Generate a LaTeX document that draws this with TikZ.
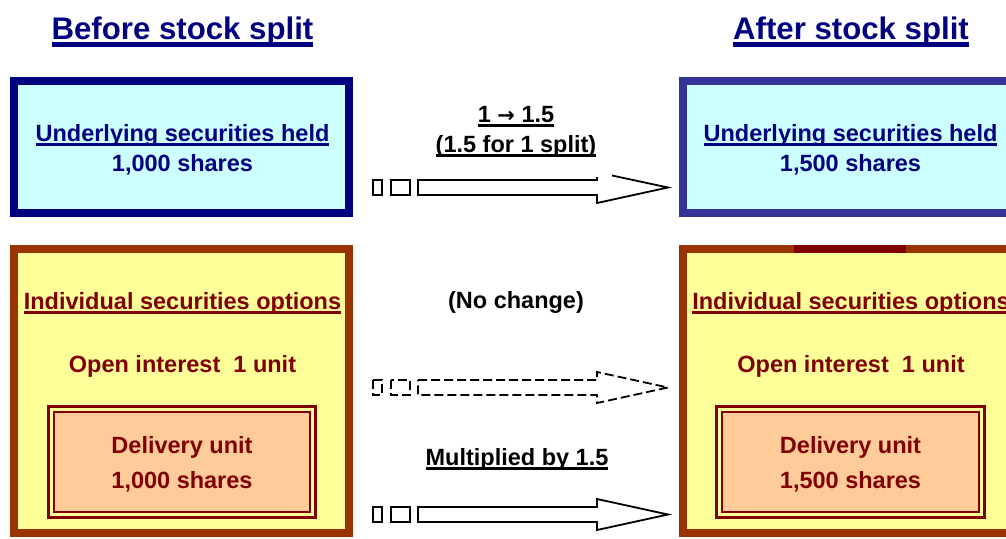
\documentclass[tikz,border=0pt]{standalone}
\usepackage{fontspec}
\setmainfont{Liberation Sans}
\newfontfamily\symfont{DejaVu Sans}
\definecolor{navyC}{HTML}{000080}
\definecolor{blueB}{HTML}{333399}
\definecolor{cyanF}{HTML}{CCFFFF}
\definecolor{brownB}{HTML}{993300}
\definecolor{yellowF}{HTML}{FFFF99}
\definecolor{darkredC}{HTML}{800000}
\definecolor{peachF}{HTML}{FFCC99}
% underlined text: #1 text, #2 depth of the rule's lower edge, #3 rule thickness
\newsavebox\ulbx
\newcommand\ulx[3]{\sbox\ulbx{#1}\rlap{\usebox\ulbx}\raisebox{-#2}{\rule{\wd\ulbx}{#3}}}
\newcommand\ulbody[1]{\ulx{#1}{4.6pt}{2.6pt}}
\newcommand\ultitle[1]{\ulx{#1}{7.7pt}{5pt}}
\begin{document}
\begin{tikzpicture}[x=1pt,y=-1pt,
  every node/.style={inner sep=0pt, anchor=base},
  body/.style={font=\bfseries\fontsize{23.5}{28}\selectfont},
  title/.style={font=\bfseries\fontsize{31.2}{36}\selectfont, text=navyC},
  bluebox/.style={line width=8pt, fill=cyanF},
  brownbox/.style={line width=8pt, draw=brownB, fill=yellowF},
  delbox/.style={line width=3pt, draw=darkredC, fill=yellowF},
  delinner/.style={line width=2pt, draw=darkredC, fill=peachF},
  arr/.style={line width=1.8pt, draw=black, line join=miter},
  dasharr/.style={arr, dash pattern=on 9pt off 4pt}]
\useasboundingbox (0,0) rectangle (1006,538);
\clip (0,0) rectangle (1006,538);

% titles
\node[title] (tBefore) at (182.5,39) {\ultitle{Before stock split}};
\node[title] (tAfter) at (851,39) {\ultitle{After stock split}};

% underlying securities boxes
\draw[bluebox, draw=navyC] (14,81) rectangle (349,213);
\draw[bluebox, draw=blueB] (683,81) rectangle (1018,213);
\node[body, text=navyC] (uL1) at (182.5,141) {\ulbody{Underlying securities held}};
\node[body, text=navyC] (uL2) at (182.5,171) {1,000 shares};
\node[body, text=navyC] (uR1) at (850.5,141) {\ulbody{Underlying securities held}};
\node[body, text=navyC] (uR2) at (850.5,171) {1,500 shares};

% options boxes
\draw[brownbox] (14,249) rectangle (349,533);
\draw[brownbox] (683,249) rectangle (1018,533);
\fill[darkredC] (794,245) rectangle (906,253);
\node[body, text=darkredC] (oL1) at (182.5,309) {\ulbody{Individual securities options}};
\node[body, text=darkredC] (oL2) at (182.5,372) {Open interest\ \ 1 unit};
\node[body, text=darkredC] (oR1) at (851,309) {\ulbody{Individual securities options}};
\node[body, text=darkredC] (oR2) at (851,372) {Open interest\ \ 1 unit};

% delivery unit boxes (double frame)
\draw[delbox] (48.5,406.5) rectangle (315.5,517.5);
\draw[delinner] (54,412) rectangle (310,512);
\node[body, text=darkredC] (dL1) at (182,453) {Delivery unit};
\node[body, text=darkredC] (dL2) at (182,488.5) {1,000 shares};
\draw[delbox] (716.5,406.5) rectangle (984.5,517.5);
\draw[delinner] (722,412) rectangle (979,512);
\node[body, text=darkredC] (dR1) at (850.5,453) {Delivery unit};
\node[body, text=darkredC] (dR2) at (850.5,488.5) {1,500 shares};

% middle labels
\node[body] (m1) at (516,122) {\ulbody{1 {\symfont\fontsize{21}{24}\selectfont →} 1.5}};
\node[body] (m2) at (516,152) {\ulbody{(1.5 for 1 split)}};
\node[body] (m3) at (516,308) {(No change)};
\node[body] (m4) at (517,465) {\ulbody{Multiplied by 1.5}};

% top arrow (split ratio)
\draw[arr] (373,180) rectangle (382,195);
\draw[arr] (391,180) rectangle (410,195);
\draw[arr] (612,175.5) -- (668,187.5) -- (597,203) -- (597,195) -- (418,195)
  -- (418,180) -- (597,180) -- (597,177);

% middle arrow (no change)
\draw[dasharr] (373,380) rectangle (382,395);
\draw[dasharr] (391,380) rectangle (410,395);
\draw[dasharr] (418,380) -- (597,380) -- (597,372) -- (668,387.5) -- (597,403)
  -- (597,395) -- (418,395) -- cycle;

% bottom arrow (delivery unit)
\draw[arr] (373,507) rectangle (382,522);
\draw[arr] (391,507) rectangle (410,522);
\draw[arr] (418,507) -- (597,507) -- (597,499) -- (668,514.5) -- (597,530)
  -- (597,522) -- (418,522) -- cycle;
\end{tikzpicture}
\end{document}
